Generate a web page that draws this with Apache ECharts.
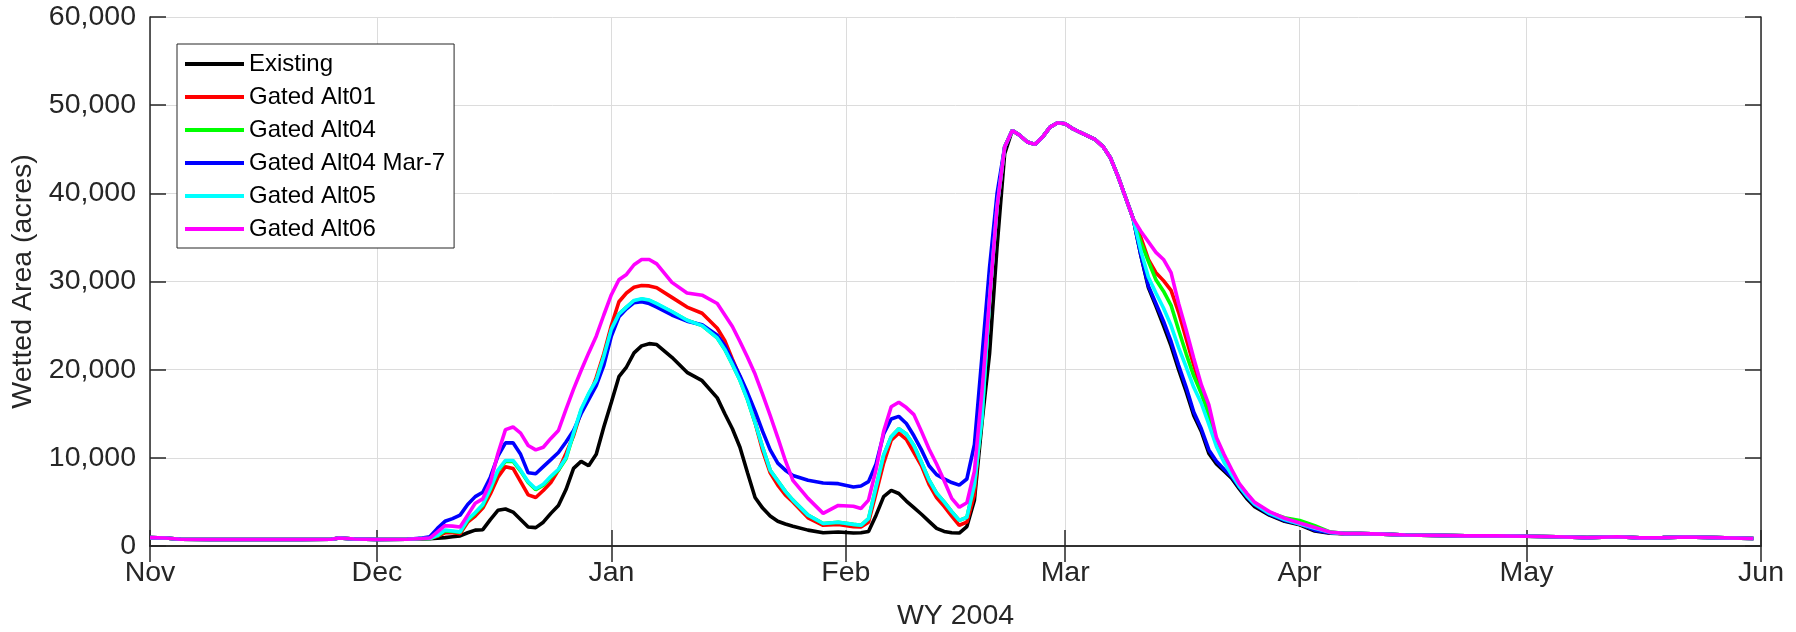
<!DOCTYPE html>
<html>
<head><meta charset="utf-8">
<script src="https://cdn.jsdelivr.net/npm/echarts@6/dist/echarts.min.js"></script>
</head>
<body style="margin:0;background:#fff;">
<div id="main" style="width:1796px;height:632px;"></div>
<script type="text/javascript">
// days since 1 Nov 2003
var days = [0,2,4,8,14,20,24,25,27,30,34,
  36,37,38,39,40,41,42,43,44,45,46,47,48,49,50,51,52,53,54,55,56,57,58,59,60,61,62,63,64,65,66,67,
  69,71,73,75,76,77,78,79,80,81,82,83,84,85,87,89,91,93,94,95,96,97,98,99,100,101,102,103,104,105,106,107,108,109,110,111,112,113,
  114,115,116,117,118,119,120,121,122,123,125,126,127,128,129,130,
  131,132,133,134,135,136,137,138,139,140,141,142,143,144,145,146,148,150,152,154,156,
  158,160,163,166,170,174,178,182,186,190,194,197,200,203,207,212];

var monthNames = ['Jan','Feb','Mar','Apr','May','Jun','Jul','Aug','Sep','Oct','Nov','Dec'];
var seriesNames = ['Existing','Gated Alt01','Gated Alt04','Gated Alt04 Mar-7','Gated Alt05','Gated Alt06'];
var seriesColors = ['#000000','#ff0000','#00ff00','#0000ff','#00ffff','#ff00ff'];

// pieces every run shares
var novFlat = [950,900,760,740,740,740,760,900,790,740,760];
var marPeak = [47140,46580,45820,45550,46380,47510,48000,47900,47330,46900,46080,45300,44000,41900,39500,37100];
var tailFlat = [1400,1400,1350,1250,1200,1150,1150,1100,1050,950,1050,920,950,1020,950,850];

// Dec - Feb event (day 36 .. 113)
var existingDec = [800,
  830,880,950,1050,1150,1500,1800,1850,3000,4050,
  4200,3850,3000,2150,2080,2700,3700,4600,6400,8800,
  9600,9100,10400,13500,16300,19200,20300,21900,22700,22950,
  22850,
  21400,19700,18750,16800,
  15000,13300,11200,8300,5500,4300,3400,2800,2500,2250,
  1800,1500,1580,
  1480,1500,1650,3500,5600,6300,5950,5100,4350,3600,
  2800,2000,1650,1500,1470,2200,5200,14000,21800,34000,
  44500];
var alt01Dec = [850,
  850,1100,1500,1500,1400,2700,3400,4300,5900,7800,
  9000,8800,7300,5800,5500,6300,7200,8600,10500,12500,
  15300,16800,19100,21800,25000,27700,28700,29350,29550,29500,
  29300,
  28200,27100,26400,24700,
  23300,21200,19200,16700,14000,10800,8300,6900,5800,5000,
  3200,2350,2450,
  2200,2150,2700,6000,9400,12000,12800,12100,10600,9100,
  7000,5500,4500,3400,2350,2700,5800,15500,30000,38500,
  45250];
var alt04Dec = [850,
  850,1150,1700,1650,1550,2900,3700,4600,6400,8500,
  9600,9600,8500,7200,6400,6900,7800,8600,9900,12700,
  15400,17200,18800,21500,24500,26300,27100,27800,28000,27850,
  27450,
  26550,25600,25000,23600,
  22300,20600,18800,16600,14000,11200,8600,7400,6200,5200,
  3500,2550,2700,
  2450,2350,3100,6700,10300,12400,13300,12700,11400,9500,
  7500,6000,5000,3900,2900,3250,7000,14500,28000,38500,
  45250];
var alt04m7Dec = [900,
  1050,2000,2800,3100,3500,4700,5600,6100,7800,10200,
  11700,11700,10400,8300,8200,9000,9800,10600,11800,13100,
  15000,16600,18200,20500,23800,26000,26900,27600,27700,27500,
  27100,
  26200,25500,25100,23900,
  22700,21000,19300,17400,15300,13000,10900,9400,8600,8000,
  7450,7150,7070,
  6700,6800,7300,9300,12700,14400,14700,13900,12500,10900,
  9100,8100,7600,7200,6900,7600,11500,21500,31600,40000,
  45250];
var alt05Dec = [850,
  850,1200,1800,1700,1600,3000,3800,4700,6500,8600,
  9700,9700,8600,7300,6500,7000,7900,8700,10000,12800,
  15500,17300,18800,21500,24600,26300,27100,27850,28050,27900,
  27500,
  26600,25600,25000,23600,
  22300,20600,18800,16600,14000,11200,8600,7400,6200,5200,
  3500,2550,2700,
  2450,2350,3100,6700,10300,12400,13300,12700,11400,9500,
  7500,6000,5000,3900,2900,3250,7000,14500,28000,38500,
  45250];
var alt06Dec = [850,
  900,1600,2300,2250,2150,3500,4850,5350,7200,10500,
  13200,13500,12800,11400,10900,11200,12200,13100,15500,17800,
  19900,21900,23800,26200,28500,30200,30800,31900,32500,32500,
  32000,
  29900,28700,28450,27500,
  26200,24900,23200,21400,19500,17200,14800,12300,9700,7450,
  5400,3700,4600,
  4500,4250,5200,8700,13000,15800,16300,15700,14900,13000,
  11000,9300,7400,5400,4400,4900,8500,17500,28000,38500,
  45250];

// March recession (day 131 .. 156)
var existingMar = [33000,29300,27200,25000,22700,20000,17500,14800,13000,10500,9300,8500,7700,6500,5400,4500,3500,2800,2400,1700,1450];
var alt01Mar = [35000,32500,31000,30100,29000,26500,23500,20500,17800,15300,12000,10000,8500,7000,5900,4900,3800,3000,2500,1900,1500];
var alt04Mar = [34500,32300,30200,28900,27300,24500,21800,19300,17300,14800,11800,9800,8300,6900,5800,4900,3800,3200,2900,2300,1600];
var alt04m7Mar = [33000,29500,27500,25500,23200,20500,18000,15200,13300,10900,9600,8700,7900,6700,5600,4700,3600,2900,2500,1800,1500];
var alt05Mar = [33500,30500,28700,27000,25000,22500,20300,18000,16200,13800,11300,9500,8100,6800,5700,4800,3700,3000,2500,2000,1550];
var alt06Mar = [35700,34500,33300,32500,31000,27500,24500,21300,18300,16000,12300,10400,8700,7100,6000,5000,3900,3150,2600,2100,1580];

var decParts = [existingDec, alt01Dec, alt04Dec, alt04m7Dec, alt05Dec, alt06Dec];
var marParts = [existingMar, alt01Mar, alt04Mar, alt04m7Mar, alt05Mar, alt06Mar];

var DAY = 86400000;
var t0 = Date.UTC(2003, 10, 1);
var tEnd = Date.UTC(2004, 5, 1);
var font = 'Liberation Sans, Arial, Helvetica, sans-serif';
var ink = '#262626';

var series = [];
for (var s = 0; s < seriesNames.length; s++) {
    var vals = novFlat.concat(decParts[s], marPeak, marParts[s], tailFlat);
    var pts = [];
    for (var i = 0; i < days.length; i++) {
        pts.push([t0 + days[i] * DAY, vals[i]]);
    }
    series.push({
        name: seriesNames[s],
        type: 'line',
        data: pts,
        showSymbol: false,
        symbol: 'none',
        lineStyle: {color: seriesColors[s], width: 3.6},
        itemStyle: {color: seriesColors[s]},
        emphasis: {disabled: true}
    });
}

var myChart = echarts.init(document.getElementById('main'));
myChart.setOption({
    animation: false,
    useUTC: true,
    backgroundColor: '#fff',
    grid: {left: 150, top: 17, width: 1611, height: 529, containLabel: false, outerBoundsMode: 'none'},
    legend: {
        data: seriesNames,
        orient: 'vertical',
        left: 177,
        top: 44,
        icon: 'rect',
        itemWidth: 59,
        itemHeight: 4,
        itemGap: 9,
        padding: [8, 9, 7, 8],
        borderColor: ink,
        borderWidth: 1,
        backgroundColor: '#fff',
        textStyle: {fontSize: 24, color: '#000', fontFamily: font}
    },
    xAxis: [{
        type: 'time',
        position: 'bottom',
        min: t0,
        max: tEnd,
        splitNumber: 7,
        name: 'WY 2004',
        nameLocation: 'middle',
        nameGap: 56,
        nameTextStyle: {fontSize: 28.5, color: ink, fontFamily: font},
        axisLine: {show: true, lineStyle: {color: ink, width: 1.5}},
        axisTick: {show: true, inside: true, length: 16, lineStyle: {color: ink, width: 1.5}},
        axisLabel: {
            fontSize: 28.5, color: ink, fontFamily: font, margin: 13,
            showMinLabel: true, showMaxLabel: true, hideOverlap: false,
            formatter: function (v) { return monthNames[new Date(v).getUTCMonth()]; }
        },
        splitLine: {show: true, lineStyle: {color: '#dcdcdc', width: 1}}
    }, {
        type: 'time',
        position: 'top',
        min: t0,
        max: tEnd,
        splitNumber: 7,
        axisLine: {show: true, lineStyle: {color: ink, width: 1.5}},
        axisTick: {show: true, inside: true, length: 16, lineStyle: {color: ink, width: 1.5}},
        axisLabel: {show: false},
        splitLine: {show: false}
    }],
    yAxis: [{
        type: 'value',
        position: 'left',
        min: 0,
        max: 60000,
        interval: 10000,
        name: 'Wetted Area (acres)',
        nameLocation: 'middle',
        nameGap: 111,
        nameTextStyle: {fontSize: 28.5, color: ink, fontFamily: font},
        axisLine: {show: true, lineStyle: {color: ink, width: 1.5}},
        axisTick: {show: true, inside: true, length: 16, lineStyle: {color: ink, width: 1.5}},
        axisLabel: {
            fontSize: 28.5, color: ink, fontFamily: font, margin: 14,
            formatter: function (v) { return v.toLocaleString('en-US'); }
        },
        splitLine: {show: true, lineStyle: {color: '#dcdcdc', width: 1}}
    }, {
        type: 'value',
        position: 'right',
        min: 0,
        max: 60000,
        interval: 10000,
        axisLine: {show: true, lineStyle: {color: ink, width: 1.5}},
        axisTick: {show: true, inside: true, length: 16, lineStyle: {color: ink, width: 1.5}},
        axisLabel: {show: false},
        splitLine: {show: false}
    }],
    series: series
});
</script>
</body>
</html>
